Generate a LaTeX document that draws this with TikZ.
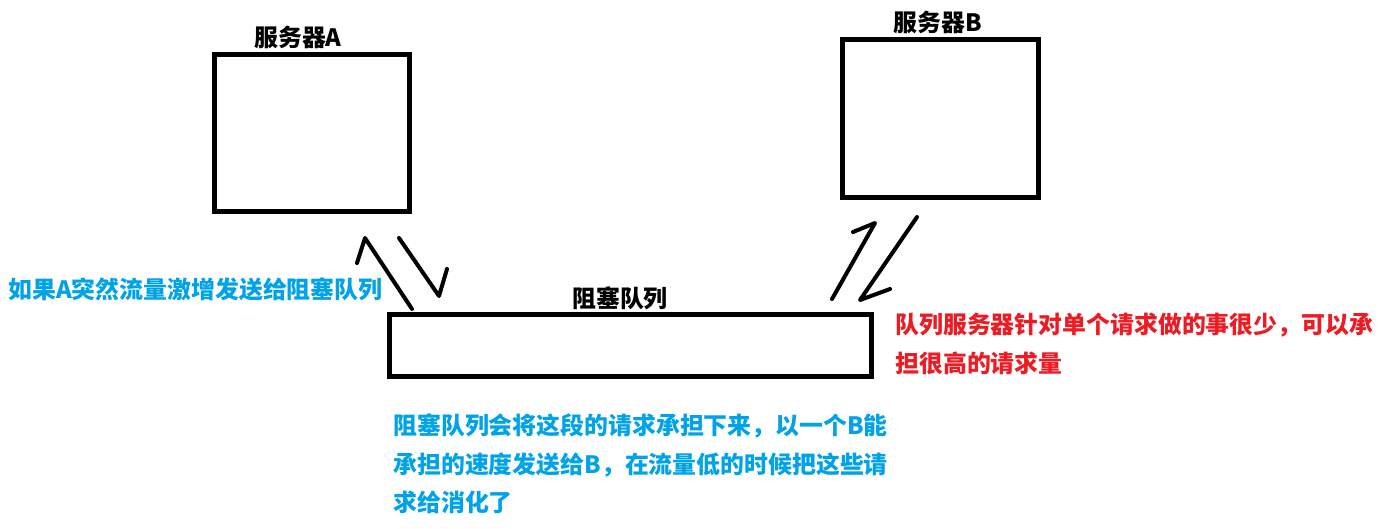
\documentclass[tikz,border=0pt]{standalone}
\usepackage{fontspec}
\setmainfont{Noto Sans CJK SC}
\usetikzlibrary{positioning}

\definecolor{azul}{RGB}{0,162,232}
\definecolor{rojo}{RGB}{237,28,36}

\providecommand{\trazo}[3]{
    \draw[pluma] (#1) -- (#2) -- (#3);
}

\begin{document}
\begin{tikzpicture}[
    x=0.02cm, y=-0.02cm,
    pluma/.style={line width=0.08cm, line cap=round, line join=round},
    servidor/.style={draw, line width=0.1cm, rectangle, inner sep=0pt, outer sep=0pt, minimum width=3.92cm, minimum height=3.16cm},
    cola/.style={draw, line width=0.1cm, rectangle, inner sep=0pt, outer sep=0pt, minimum width=9.64cm, minimum height=1.24cm},
    etiqueta/.style={inner sep=0pt, font=\fontsize{13.6}{22}\selectfont\bfseries},
    nota/.style={inner sep=0pt, align=left, font=\fontsize{13.6}{22}\selectfont\bfseries}
]
    \useasboundingbox (0,0) rectangle (1378,528);

    % SERVIDORES Y COLA
    \node[servidor] (SA) at (312,133) {};
    \node[servidor] (SB) at (940.5,118.5) {};
    \node[cola] (Q) at (630.5,345.5) {};

    \node[etiqueta] (LA) at (298,37) {服务器A};
    \node[etiqueta] (LB) at (938,22) {服务器B};
    \node[etiqueta] (LQ) at (620,298) {阻塞队列};

    % FLECHAS A MANO
    \coordinate (A1s) at (412,309); \coordinate (A1t) at (365,238); \coordinate (A1h) at (357,263);
    \coordinate (A2s) at (399,238); \coordinate (A2t) at (439,296); \coordinate (A2h) at (447,269);
    \coordinate (B1s) at (832,299); \coordinate (B1t) at (875,223); \coordinate (B1h) at (853,232);
    \coordinate (B2s) at (917,217); \coordinate (B2t) at (860,300); \coordinate (B2h) at (890,289);
    \trazo{A1s}{A1t}{A1h}
    \trazo{A2s}{A2t}{A2h}
    \trazo{B1s}{B1t}{B1h}
    \trazo{B2s}{B2t}{B2h}

    % NOTAS
    \node[nota, text=azul, anchor=west] (N1) at (8,289) {如果A突然流量激增发送给阻塞队列};
    \node[nota, text=rojo, anchor=west] (N2) at (895,344) {队列服务器针对单个请求做的事很少，可以承\\担很高的请求量};
    \node[nota, text=azul, anchor=west] (N3) at (393,464) {阻塞队列会将这段的请求承担下来，以一个B能\\承担的速度发送给B，在流量低的时候把这些请\\求给消化了};

\end{tikzpicture}
\end{document}
